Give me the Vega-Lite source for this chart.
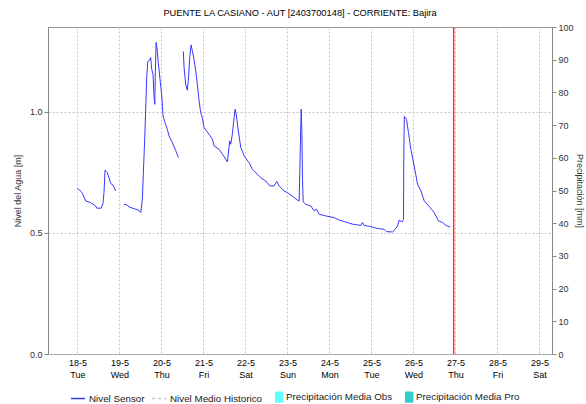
{
  "$schema": "https://vega.github.io/schema/vega-lite/v6.json",
  "width": 504,
  "height": 327,
  "autosize": "none",
  "padding": {"left": 48, "top": 27, "right": 34, "bottom": 50},
  "background": "white",
  "title": {"text": "PUENTE LA CASIANO - AUT [2403700148] - CORRIENTE: Bajira", "fontSize": 9.3, "font": "Liberation Sans", "fontWeight": "normal", "color": "#000", "offset": 5},
  "config": {
    "font": "Liberation Sans",
    "view": {"stroke": "#999", "strokeWidth": 1}
  },
  "datasets": {
    "nivel": [
      {"fecha": "2021-05-18T00:00", "nivel": 0.683, "tramo": 1},
      {"fecha": "2021-05-18T01:15", "nivel": 0.677, "tramo": 1},
      {"fecha": "2021-05-18T02:45", "nivel": 0.664, "tramo": 1},
      {"fecha": "2021-05-18T04:40", "nivel": 0.632, "tramo": 1},
      {"fecha": "2021-05-18T07:30", "nivel": 0.625, "tramo": 1},
      {"fecha": "2021-05-18T10:25", "nivel": 0.611, "tramo": 1},
      {"fecha": "2021-05-18T11:00", "nivel": 0.602, "tramo": 1},
      {"fecha": "2021-05-18T13:35", "nivel": 0.602, "tramo": 1},
      {"fecha": "2021-05-18T14:35", "nivel": 0.622, "tramo": 1},
      {"fecha": "2021-05-18T15:10", "nivel": 0.667, "tramo": 1},
      {"fecha": "2021-05-18T15:45", "nivel": 0.759, "tramo": 1},
      {"fecha": "2021-05-18T17:00", "nivel": 0.749, "tramo": 1},
      {"fecha": "2021-05-18T18:00", "nivel": 0.728, "tramo": 1},
      {"fecha": "2021-05-18T19:00", "nivel": 0.704, "tramo": 1},
      {"fecha": "2021-05-18T20:20", "nivel": 0.697, "tramo": 1},
      {"fecha": "2021-05-18T21:50", "nivel": 0.673, "tramo": 1},
      {"fecha": "2021-05-19T02:35", "nivel": 0.618, "tramo": 2},
      {"fecha": "2021-05-19T04:30", "nivel": 0.615, "tramo": 2},
      {"fecha": "2021-05-19T05:25", "nivel": 0.607, "tramo": 2},
      {"fecha": "2021-05-19T08:20", "nivel": 0.600, "tramo": 2},
      {"fecha": "2021-05-19T11:10", "nivel": 0.593, "tramo": 2},
      {"fecha": "2021-05-19T12:10", "nivel": 0.584, "tramo": 2},
      {"fecha": "2021-05-19T13:05", "nivel": 0.639, "tramo": 2},
      {"fecha": "2021-05-19T13:40", "nivel": 0.749, "tramo": 2},
      {"fecha": "2021-05-19T14:25", "nivel": 0.887, "tramo": 2},
      {"fecha": "2021-05-19T15:00", "nivel": 1.011, "tramo": 2},
      {"fecha": "2021-05-19T15:35", "nivel": 1.142, "tramo": 2},
      {"fecha": "2021-05-19T16:10", "nivel": 1.208, "tramo": 2},
      {"fecha": "2021-05-19T17:15", "nivel": 1.214, "tramo": 2},
      {"fecha": "2021-05-19T17:50", "nivel": 1.224, "tramo": 2},
      {"fecha": "2021-05-19T18:25", "nivel": 1.176, "tramo": 2},
      {"fecha": "2021-05-19T19:10", "nivel": 1.155, "tramo": 2},
      {"fecha": "2021-05-19T19:45", "nivel": 1.066, "tramo": 2},
      {"fecha": "2021-05-19T20:10", "nivel": 1.031, "tramo": 2},
      {"fecha": "2021-05-19T20:30", "nivel": 1.162, "tramo": 2},
      {"fecha": "2021-05-19T20:55", "nivel": 1.286, "tramo": 2},
      {"fecha": "2021-05-19T21:30", "nivel": 1.259, "tramo": 2},
      {"fecha": "2021-05-19T22:10", "nivel": 1.204, "tramo": 2},
      {"fecha": "2021-05-19T23:10", "nivel": 1.135, "tramo": 2},
      {"fecha": "2021-05-20T00:10", "nivel": 1.066, "tramo": 2},
      {"fecha": "2021-05-20T00:55", "nivel": 0.983, "tramo": 2},
      {"fecha": "2021-05-20T02:00", "nivel": 0.956, "tramo": 2},
      {"fecha": "2021-05-20T03:20", "nivel": 0.928, "tramo": 2},
      {"fecha": "2021-05-20T04:20", "nivel": 0.900, "tramo": 2},
      {"fecha": "2021-05-20T06:15", "nivel": 0.873, "tramo": 2},
      {"fecha": "2021-05-20T08:10", "nivel": 0.839, "tramo": 2},
      {"fecha": "2021-05-20T09:40", "nivel": 0.811, "tramo": 2},
      {"fecha": "2021-05-20T12:30", "nivel": 1.249, "tramo": 3},
      {"fecha": "2021-05-20T12:55", "nivel": 1.183, "tramo": 3},
      {"fecha": "2021-05-20T13:50", "nivel": 1.114, "tramo": 3},
      {"fecha": "2021-05-20T14:45", "nivel": 1.089, "tramo": 3},
      {"fecha": "2021-05-20T15:20", "nivel": 1.128, "tramo": 3},
      {"fecha": "2021-05-20T16:10", "nivel": 1.224, "tramo": 3},
      {"fecha": "2021-05-20T16:55", "nivel": 1.276, "tramo": 3},
      {"fecha": "2021-05-20T17:40", "nivel": 1.252, "tramo": 3},
      {"fecha": "2021-05-20T18:35", "nivel": 1.217, "tramo": 3},
      {"fecha": "2021-05-20T19:35", "nivel": 1.169, "tramo": 3},
      {"fecha": "2021-05-20T20:30", "nivel": 1.114, "tramo": 3},
      {"fecha": "2021-05-20T21:30", "nivel": 1.045, "tramo": 3},
      {"fecha": "2021-05-20T22:25", "nivel": 0.997, "tramo": 3},
      {"fecha": "2021-05-20T23:20", "nivel": 0.976, "tramo": 3},
      {"fecha": "2021-05-21T00:20", "nivel": 0.935, "tramo": 3},
      {"fecha": "2021-05-21T03:10", "nivel": 0.907, "tramo": 3},
      {"fecha": "2021-05-21T05:05", "nivel": 0.887, "tramo": 3},
      {"fecha": "2021-05-21T06:05", "nivel": 0.859, "tramo": 3},
      {"fecha": "2021-05-21T08:55", "nivel": 0.845, "tramo": 3},
      {"fecha": "2021-05-21T10:50", "nivel": 0.825, "tramo": 3},
      {"fecha": "2021-05-21T12:45", "nivel": 0.804, "tramo": 3},
      {"fecha": "2021-05-21T13:40", "nivel": 0.793, "tramo": 3},
      {"fecha": "2021-05-21T15:00", "nivel": 0.880, "tramo": 3},
      {"fecha": "2021-05-21T15:35", "nivel": 0.866, "tramo": 3},
      {"fecha": "2021-05-21T16:30", "nivel": 0.907, "tramo": 3},
      {"fecha": "2021-05-21T17:30", "nivel": 0.976, "tramo": 3},
      {"fecha": "2021-05-21T18:05", "nivel": 1.011, "tramo": 3},
      {"fecha": "2021-05-21T18:50", "nivel": 0.983, "tramo": 3},
      {"fecha": "2021-05-21T19:55", "nivel": 0.921, "tramo": 3},
      {"fecha": "2021-05-21T21:20", "nivel": 0.852, "tramo": 3},
      {"fecha": "2021-05-21T23:15", "nivel": 0.818, "tramo": 3},
      {"fecha": "2021-05-22T02:05", "nivel": 0.790, "tramo": 3},
      {"fecha": "2021-05-22T03:58", "nivel": 0.763, "tramo": 3},
      {"fecha": "2021-05-22T06:50", "nivel": 0.742, "tramo": 3},
      {"fecha": "2021-05-22T08:45", "nivel": 0.728, "tramo": 3},
      {"fecha": "2021-05-22T11:35", "nivel": 0.714, "tramo": 3},
      {"fecha": "2021-05-22T13:55", "nivel": 0.694, "tramo": 3},
      {"fecha": "2021-05-22T16:20", "nivel": 0.694, "tramo": 3},
      {"fecha": "2021-05-22T17:55", "nivel": 0.712, "tramo": 3},
      {"fecha": "2021-05-22T19:15", "nivel": 0.694, "tramo": 3},
      {"fecha": "2021-05-22T22:05", "nivel": 0.673, "tramo": 3},
      {"fecha": "2021-05-22T23:58", "nivel": 0.666, "tramo": 3},
      {"fecha": "2021-05-23T02:50", "nivel": 0.652, "tramo": 3},
      {"fecha": "2021-05-23T05:40", "nivel": 0.635, "tramo": 3},
      {"fecha": "2021-05-23T06:40", "nivel": 0.632, "tramo": 3},
      {"fecha": "2021-05-23T07:15", "nivel": 0.818, "tramo": 3},
      {"fecha": "2021-05-23T07:50", "nivel": 1.011, "tramo": 3},
      {"fecha": "2021-05-23T08:15", "nivel": 0.914, "tramo": 3},
      {"fecha": "2021-05-23T08:35", "nivel": 0.721, "tramo": 3},
      {"fecha": "2021-05-23T09:00", "nivel": 0.628, "tramo": 3},
      {"fecha": "2021-05-23T10:30", "nivel": 0.618, "tramo": 3},
      {"fecha": "2021-05-23T13:20", "nivel": 0.611, "tramo": 3},
      {"fecha": "2021-05-23T15:15", "nivel": 0.591, "tramo": 3},
      {"fecha": "2021-05-23T16:35", "nivel": 0.598, "tramo": 3},
      {"fecha": "2021-05-23T18:05", "nivel": 0.577, "tramo": 3},
      {"fecha": "2021-05-23T21:55", "nivel": 0.570, "tramo": 3},
      {"fecha": "2021-05-24T02:40", "nivel": 0.563, "tramo": 3},
      {"fecha": "2021-05-24T05:30", "nivel": 0.553, "tramo": 3},
      {"fecha": "2021-05-24T09:20", "nivel": 0.545, "tramo": 3},
      {"fecha": "2021-05-24T13:10", "nivel": 0.536, "tramo": 3},
      {"fecha": "2021-05-24T17:55", "nivel": 0.531, "tramo": 3},
      {"fecha": "2021-05-24T18:50", "nivel": 0.543, "tramo": 3},
      {"fecha": "2021-05-24T19:50", "nivel": 0.531, "tramo": 3},
      {"fecha": "2021-05-24T23:40", "nivel": 0.526, "tramo": 3},
      {"fecha": "2021-05-25T03:25", "nivel": 0.518, "tramo": 3},
      {"fecha": "2021-05-25T07:15", "nivel": 0.515, "tramo": 3},
      {"fecha": "2021-05-25T08:35", "nivel": 0.505, "tramo": 3},
      {"fecha": "2021-05-25T12:00", "nivel": 0.504, "tramo": 3},
      {"fecha": "2021-05-25T13:35", "nivel": 0.515, "tramo": 3},
      {"fecha": "2021-05-25T14:55", "nivel": 0.529, "tramo": 3},
      {"fecha": "2021-05-25T15:50", "nivel": 0.553, "tramo": 3},
      {"fecha": "2021-05-25T17:25", "nivel": 0.545, "tramo": 3},
      {"fecha": "2021-05-25T18:20", "nivel": 0.556, "tramo": 3},
      {"fecha": "2021-05-25T18:25", "nivel": 0.763, "tramo": 3},
      {"fecha": "2021-05-25T18:45", "nivel": 0.981, "tramo": 3},
      {"fecha": "2021-05-25T20:00", "nivel": 0.969, "tramo": 3},
      {"fecha": "2021-05-25T21:10", "nivel": 0.914, "tramo": 3},
      {"fecha": "2021-05-25T22:30", "nivel": 0.845, "tramo": 3},
      {"fecha": "2021-05-26T00:25", "nivel": 0.776, "tramo": 3},
      {"fecha": "2021-05-26T02:20", "nivel": 0.701, "tramo": 3},
      {"fecha": "2021-05-26T04:15", "nivel": 0.673, "tramo": 3},
      {"fecha": "2021-05-26T06:10", "nivel": 0.632, "tramo": 3},
      {"fecha": "2021-05-26T09:00", "nivel": 0.609, "tramo": 3},
      {"fecha": "2021-05-26T11:50", "nivel": 0.584, "tramo": 3},
      {"fecha": "2021-05-26T14:20", "nivel": 0.549, "tramo": 3},
      {"fecha": "2021-05-26T16:35", "nivel": 0.543, "tramo": 3},
      {"fecha": "2021-05-26T18:35", "nivel": 0.531, "tramo": 3},
      {"fecha": "2021-05-26T21:00", "nivel": 0.524, "tramo": 3}
    ],
    "precipitacion": [],
    "actual": [{"fecha": "2021-05-26T23:00"}]
  },
  "resolve": {"scale": {"y": "independent"}, "axis": {"y": "independent"}},
  "layer": [
    {
      "data": {"name": "nivel"},
      "mark": {"type": "line", "strokeWidth": 1, "interpolate": "linear"},
      "encoding": {
        "x": {
          "field": "fecha", "type": "temporal",
          "scale": {"domain": [{"year": 2021, "month": 5, "date": 17, "hours": 7, "minutes": 10}, {"year": 2021, "month": 5, "date": 29, "hours": 7, "minutes": 10}], "nice": false, "padding": 0},
          "axis": {
            "title": null,
            "tickCount": {"interval": "day", "step": 1},
            "labelExpr": "[timeFormat(datum.value, '%-d-%-m'), timeFormat(datum.value, '%a')]",
            "labelFontSize": 9, "labelColor": "#000", "labelPadding": 4, "labelLineHeight": 12,
            "labelFlush": false, "labelOverlap": false,
            "grid": true, "gridDash": [2, 2], "gridColor": "#c4c4c4",
            "domain": false, "ticks": false
          }
        },
        "y": {
          "field": "nivel", "type": "quantitative",
          "scale": {"domain": [0, 1.35], "nice": false},
          "axis": {
            "orient": "left", "title": "Nivel del Agua [m]", "values": [0, 0.5, 1], "format": ".1f",
            "grid": true, "gridDash": [2, 2], "gridColor": "#c4c4c4",
            "domainColor": "#888", "tickColor": "#888", "tickSize": 4,
            "labelFontSize": 9, "labelColor": "#333",
            "titleFontSize": 9, "titleFontWeight": "normal", "titleColor": "#333", "titlePadding": 7
          }
        },
        "detail": {"field": "tramo", "type": "nominal"},
        "color": {
          "datum": "Nivel Sensor",
          "type": "nominal",
          "scale": {
            "domain": ["Nivel Sensor", "Nivel Medio Historico", "Precipitación Media Obs", "Precipitación Media Pro"],
            "range": ["#3838ff", "#c8c8c8", "#66ffff", "#33cccc"]
          },
          "legend": {
            "title": null, "orient": "none", "legendX": 22, "legendY": 362, "direction": "horizontal",
            "padding": 0, "symbolType": "stroke", "symbolSize": 196, "symbolStrokeWidth": 1.5,
            "labelFontSize": 9.8, "labelColor": "#222", "labelOffset": 3, "columnPadding": 4,
            "encode": {
              "symbols": {
                "update": {
                  "shape": {"signal": "datum.index < 2 ? 'stroke' : 'M0.1,-0.7H1.1V0.7H0.1Z'"},
                  "fill": {"signal": "datum.index < 2 ? 'transparent' : scale('color', datum.value)"},
                  "stroke": {"signal": "datum.index < 2 ? scale('color', datum.value) : 'transparent'"},
                  "strokeDash": {"signal": "datum.index == 1 ? [3, 3] : [1, 0]"}
                }
              }
            }
          }
        }
      }
    },
    {
      "data": {"name": "precipitacion"},
      "mark": {"type": "bar", "color": "#66ffff"},
      "encoding": {
        "x": {"field": "fecha", "type": "temporal"},
        "y": {
          "field": "mm", "type": "quantitative",
          "scale": {"domain": [0, 100], "nice": false},
          "axis": {
            "orient": "right", "title": "Precipitación [mm]", "values": [0, 10, 20, 30, 40, 50, 60, 70, 80, 90, 100],
            "grid": false, "domainColor": "#888", "tickColor": "#888", "tickSize": 4,
            "labelFontSize": 9, "labelColor": "#333",
            "titleFontSize": 9, "titleFontWeight": "normal", "titleColor": "#333", "titlePadding": 1
          }
        }
      }
    },
    {
      "data": {"name": "actual"},
      "mark": {"type": "rule", "color": "#ff3030", "strokeWidth": 1.5},
      "encoding": {
        "x": {"field": "fecha", "type": "temporal"}
      }
    }
  ]
}
